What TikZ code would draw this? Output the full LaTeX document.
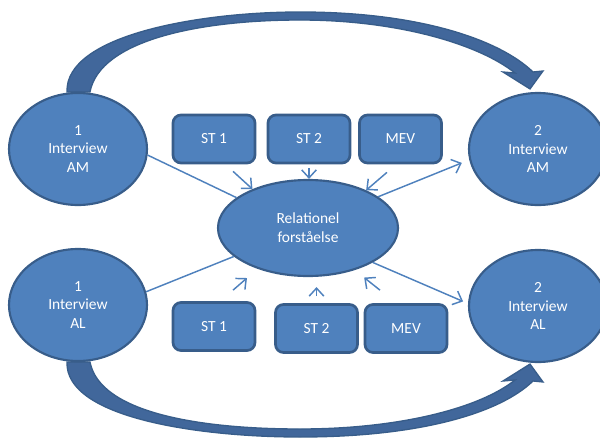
\documentclass[tikz,border=0pt]{standalone}
\usepackage{fontspec}
\setmainfont{Carlito}
\usetikzlibrary{arrows.meta,shapes.geometric,calc,backgrounds}
\definecolor{ofblue}{HTML}{4F81BD}
\definecolor{ofdark}{HTML}{385D8A}
\definecolor{ofband}{HTML}{41679B}
\tikzset{>={Straight Barb[length=6pt,width=11pt]},
  every node/.style={font=\fontsize{11.6}{14.2}\selectfont,text=white,align=center},
  interview/.style={ellipse,draw=ofdark,fill=ofblue,line width=1.6pt,minimum width=103.5pt,minimum height=84pt,inner sep=0pt},
  relnode/.style={ellipse,draw=ofdark,fill=ofblue,line width=1.6pt,minimum width=135pt,minimum height=72pt,inner sep=0pt},
  stbox/.style={rectangle,rounded corners=6pt,draw=ofdark,fill=ofblue,line width=2pt,minimum width=61.5pt,minimum height=36pt,inner sep=0pt},
  link/.style={ofblue,line width=1.1pt},
  bigarrow/.style={fill=ofband,draw=ofdark,line width=1pt}}

\begin{document}
\begin{tikzpicture}[x=0.75pt,y=-0.75pt]
\useasboundingbox (0,0) rectangle (600,439);
\node[interview] (am1) at (78,149) {1\\Interview\\AM};
\node[interview] (am2) at (538,149) {2\\Interview\\AM};
\node[interview] (al1) at (78,305) {1\\Interview\\AL};
\node[interview] (al2) at (538,306) {2\\Interview\\AL};
\node[relnode] (rel) at (308,228) {Relationel\\forståelse};

\node[stbox] (st1t) at (214,139) {ST 1};
\node[stbox] (st2t) at (309,139) {ST 2};
\node[stbox] (mevt) at (400.5,139) {MEV};
\node[stbox] (st1b) at (214,326.5) {ST 1};
\node[stbox] (st2b) at (316.5,328.5) {ST 2};
\node[stbox] (mevb) at (406,328.5) {MEV};

\begin{scope}[on background layer]
\filldraw[bigarrow] ($(am1.north)+(-11,0)$) .. controls (65,35) and (200,12) .. (300,12)
  .. controls (420,12) and (500,40) .. (533,72) -- (543,71) -- ($(am2.north)+(-8,-3)$)
  -- (503,72) -- (515,73) .. controls (480,45) and (400,20) .. (300,20)
  .. controls (200,20) and (100,40) .. ($(am1.north)+(12,0)$) -- cycle;
\filldraw[bigarrow] ($(al1.south)+(-11,0)$) .. controls (65,418) and (200,437) .. (300,437)
  .. controls (420,437) and (500,413) .. (533,381) -- (543,382) -- ($(al2.south)+(-8,1)$)
  -- (503,381) -- (515,380) .. controls (480,408) and (400,429) .. (300,429)
  .. controls (200,429) and (100,413) .. ($(al1.south)+(12,0)$) -- cycle;
\end{scope}

\draw[link] (am1.-5) -- (rel.157);
\draw[link,->,shorten >=6pt] (rel.24) -- (am2.189);
\draw[link] (al1.11) -- (rel.201);
\draw[link,->,shorten >=4pt] (rel.-28) -- (al2.178);

\draw[link,->] ($(st1t.south)+(19,7)$) -- (rel.145);
\draw[link,->] ($(st2t.south)+(0,4)$) -- (st2t.south |- rel.north);
\draw[link,->] ($(mevt.south)+(-13.5,8)$) -- (rel.33);
\draw[link,->,shorten >=10.5pt] ($(st1b.north)+(19,-11)$) -- (rel.219);
\draw[link,->,shorten >=7.5pt] ($(st2b.north)+(0,-7)$) -- (st2b.north |- rel.south);
\draw[link,->,shorten >=9pt] ($(mevb.north)+(-26,-13)$) -- (rel.-42);
\end{tikzpicture}
\end{document}
